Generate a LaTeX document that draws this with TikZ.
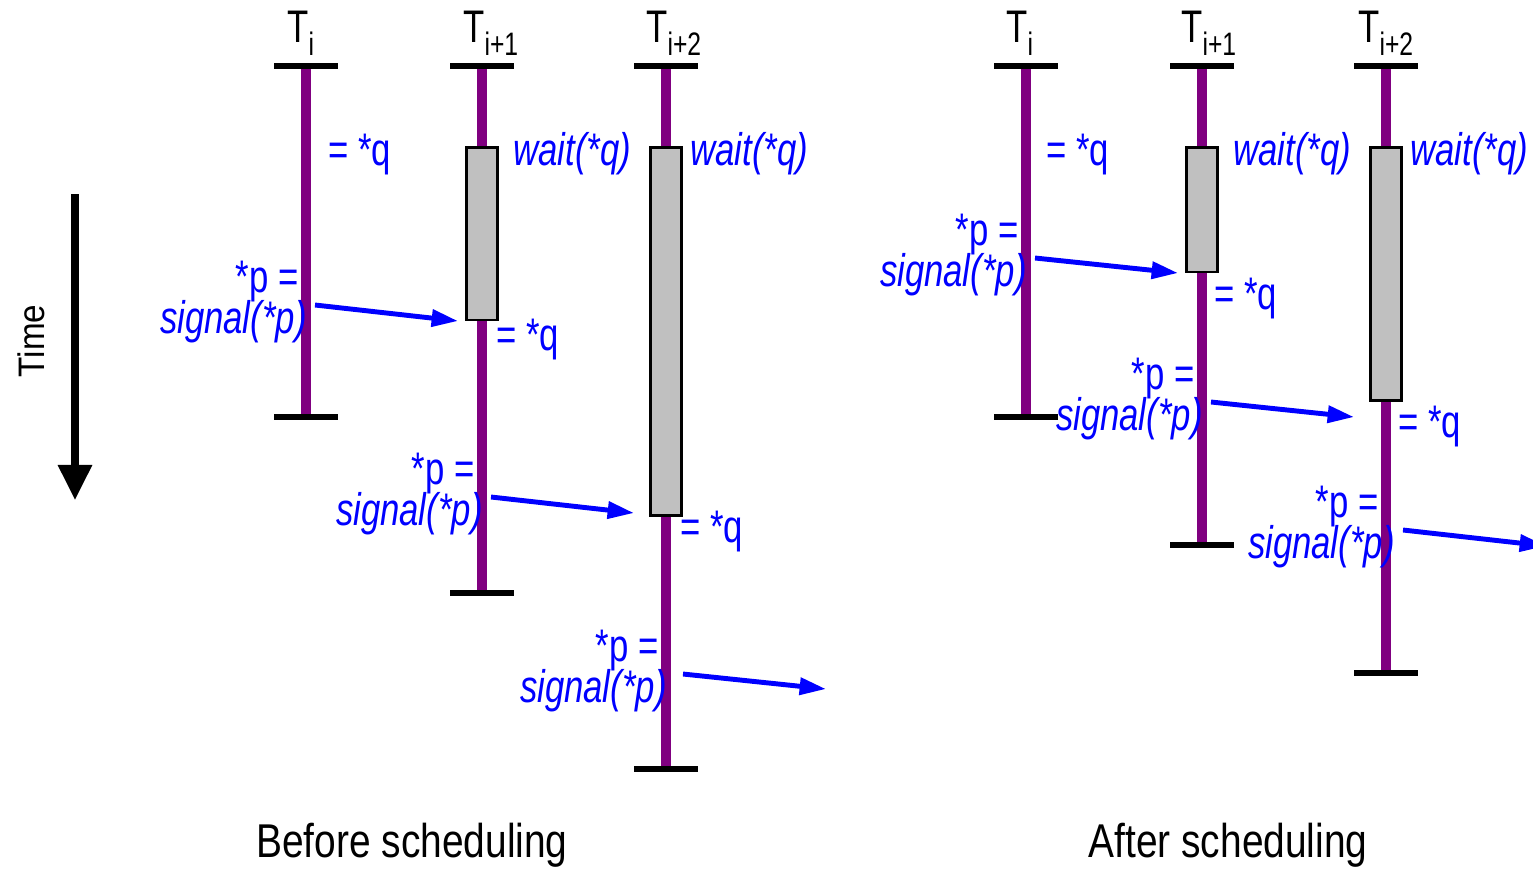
\documentclass[tikz,border=0pt]{standalone}
\usepackage{fontspec}
\setmainfont{Liberation Sans}[FakeStretch=0.76]
\newfontfamily\timefont{Liberation Sans}[FakeStretch=0.9]
\newfontfamily\capfont{Liberation Sans}[FakeStretch=0.82]
\usetikzlibrary{arrows.meta}
\definecolor{lifepurple}{RGB}{128,0,128}
\definecolor{sigblue}{RGB}{0,0,255}
\definecolor{waitgray}{RGB}{192,192,192}
\newcommand{\thr}[1]{T\raisebox{-7.6pt}{\fontsize{18.5}{20}\selectfont #1}}
\tikzset{
  life/.style={draw=lifepurple, line width=5.7pt},
  endbar/.style={draw=black, line width=3.4pt},
  waitbox/.style={draw=black, fill=waitgray, line width=1.7pt, minimum width=0.62cm, inner sep=0pt},
  lbl/.style={text=sigblue, font=\fontsize{26}{30}\selectfont, inner sep=0pt},
  ilbl/.style={text=sigblue, font=\fontsize{26}{30}\selectfont\itshape, inner sep=0pt},
  thlabel/.style={font=\fontsize{26}{30}\selectfont, inner sep=0pt, anchor=base west},
  sig/.style={draw=sigblue, line width=2.8pt, -{Triangle[length=15pt,width=9.5pt]}},
  caption/.style={font=\capfont\fontsize{27}{32}\selectfont, inner sep=0pt, anchor=base},
}
\begin{document}
\begin{tikzpicture}[x=0.02cm,y=-0.02cm]
\useasboundingbox (0,0) rectangle (1533,870);

% ---------- lifelines: coordinates ----------
% before
\coordinate (bAt) at (306,66);  \coordinate (bAb) at (306,417);
\coordinate (bBt) at (482,66);  \coordinate (bBb) at (482,593);
\coordinate (bCt) at (666,66);  \coordinate (bCb) at (666,769);
% after
\coordinate (aAt) at (1026,66); \coordinate (aAb) at (1026,417);
\coordinate (aBt) at (1202,66); \coordinate (aBb) at (1202,545);
\coordinate (aCt) at (1386,66); \coordinate (aCb) at (1386,673);

\foreach \t/\b in {bAt/bAb,bBt/bBb,bCt/bCb,aAt/aAb,aBt/aBb,aCt/aCb}{
  \draw[life] (\t) -- (\b);
  \draw[endbar] ([xshift=-0.64cm]\t) -- ([xshift=0.64cm]\t);
  \draw[endbar] ([xshift=-0.64cm]\b) -- ([xshift=0.64cm]\b);
}

% ---------- wait boxes ----------
\node[waitbox, minimum height=3.46cm] (bw1) at (482,233.5) {};
\node[waitbox, minimum height=7.38cm] (bw2) at (666,331.5) {};
\node[waitbox, minimum height=2.50cm] (aw1) at (1202,209.5) {};
\node[waitbox, minimum height=5.08cm] (aw2) at (1386,274) {};

% ---------- thread labels ----------
\node[thlabel] (bTA) at (287,42) {\thr{i}};
\node[thlabel] (bTB) at (463,42) {\thr{i+1}};
\node[thlabel] (bTC) at (646,42) {\thr{i+2}};
\node[thlabel] (aTA) at (1006,42) {\thr{i}};
\node[thlabel] (aTB) at (1181,42) {\thr{i+1}};
\node[thlabel] (aTC) at (1358,42) {\thr{i+2}};

% ---------- before scheduling texts ----------
\node[lbl, anchor=base west] (bq1) at (328,165) {= *q};
\node[ilbl, anchor=base west] (bwt1) at (513,165) {wait(*q)};
\node[ilbl, anchor=base west] (bwt2) at (690,165) {wait(*q)};
\node[lbl, anchor=base west] (bq2) at (496,350) {= *q};
\node[lbl, anchor=base west] (bq3) at (680,542) {= *q};

\node[lbl, anchor=base east] (bp1) at (299,292) {*p =};
\node[ilbl, anchor=base east] (bs1) at (307,333) {signal(*p)};
\node[lbl, anchor=base east] (bp2) at (475,484) {*p =};
\node[ilbl, anchor=base east] (bs2) at (483,525) {signal(*p)};
\node[lbl, anchor=base east] (bp3) at (659,661) {*p =};
\node[ilbl, anchor=base east] (bs3) at (667,702) {signal(*p)};

% ---------- after scheduling texts ----------
\node[lbl, anchor=base west] (aq1) at (1046,165) {= *q};
\node[ilbl, anchor=base west] (awt1) at (1233,165) {wait(*q)};
\node[ilbl, anchor=base west] (awt2) at (1410,165) {wait(*q)};
\node[lbl, anchor=base west] (aq2) at (1214,309) {= *q};
\node[lbl, anchor=base west] (aq3) at (1398,437) {= *q};

\node[lbl, anchor=base east] (ap1) at (1019,245) {*p =};
\node[ilbl, anchor=base east] (as1) at (1027,286) {signal(*p)};
\node[lbl, anchor=base east] (ap2) at (1195,389) {*p =};
\node[ilbl, anchor=base east] (as2) at (1203,430) {signal(*p)};
\node[lbl, anchor=base east] (ap3) at (1379,517) {*p =};
\node[ilbl, anchor=base east] (as3) at (1395,558) {signal(*p)};

% ---------- signal arrows ----------
\coordinate (bs1a) at (315,305);  \coordinate (bs1b) at (458,321);
\coordinate (bs2a) at (491,497);  \coordinate (bs2b) at (634,513);
\coordinate (bs3a) at (683,674);  \coordinate (bs3b) at (826,689);
\coordinate (as1a) at (1035,258); \coordinate (as1b) at (1178,273);
\coordinate (as2a) at (1211,402); \coordinate (as2b) at (1354,417);
\coordinate (as3a) at (1403,530); \coordinate (as3b) at (1546,546);
\draw[sig] (bs1a) -- (bs1b);
\draw[sig] (bs2a) -- (bs2b);
\draw[sig] (bs3a) -- (bs3b);
\draw[sig] (as1a) -- (as1b);
\draw[sig] (as2a) -- (as2b);
\draw[sig] (as3a) -- (as3b);

% ---------- time axis ----------
\coordinate (tTop) at (75,194);
\coordinate (tBot) at (75,500);
\draw[line width=4pt, -{Triangle[length=20pt,width=18.7pt]}] (tTop) -- (tBot);
\node[font=\timefont\fontsize{21}{25}\selectfont, rotate=90, inner sep=0pt] (time) at (31,341) {Time};

% ---------- captions ----------
\node[caption] (capB) at (412,857) {Before scheduling};
\node[caption] (capA) at (1228,857) {After scheduling};
\end{tikzpicture}
\end{document}
